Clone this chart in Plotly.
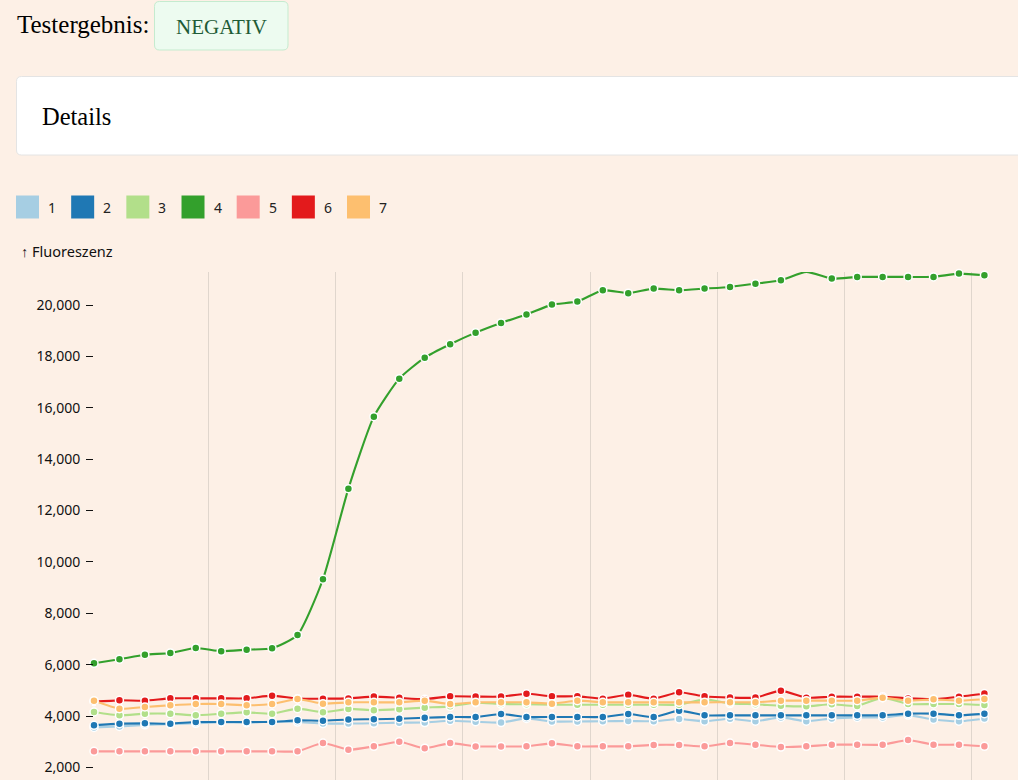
import plotly.graph_objects as go

# ---------------- data ----------------
cycles = list(range(36))
series_names = ["1", "2", "3", "4", "5", "6", "7"]
series_colors = ["#a6cee3", "#1f78b4", "#b2df8a", "#33a02c", "#fb9a99", "#e31a1c", "#fdbf6f"]

s1 = [3560, 3600, 3660, 3690, 3720, 3760, 3740, 3790, 3770,
      3710, 3710, 3720, 3745, 3750, 3820, 3780, 3750, 3910,
      3790, 3790, 3800, 3810, 3800, 3890, 3800, 3900, 3800,
      3950, 3800, 3910, 3950, 3950, 4040, 3870, 3800, 3910]
s2 = [3641, 3706, 3719, 3706, 3771, 3771, 3771, 3771, 3835,
      3822, 3870, 3880, 3900, 3935, 3965, 3965, 4082, 3965,
      3965, 3965, 3965, 4082, 3965, 4212, 4030, 4030, 4030,
      4030, 4030, 4030, 4030, 4030, 4095, 4095, 4030, 4095]
s3 = [4160, 4030, 4095, 4095, 4030, 4095, 4147, 4095, 4290,
      4150, 4280, 4230, 4270, 4330, 4380, 4520, 4470, 4460,
      4445, 4445, 4445, 4445, 4445, 4445, 4650, 4490, 4460,
      4400, 4380, 4460, 4394, 4718, 4471, 4471, 4471, 4430]
s4 = [6056, 6212, 6391, 6457, 6652, 6523, 6586, 6640, 7158,
      9326, 12853, 15655, 17134, 17952, 18473, 18925, 19303, 19626,
      20015, 20132, 20575, 20459, 20638, 20575, 20638, 20704, 20832,
      20965, 21288, 21027, 21093, 21093, 21093, 21093, 21222, 21158]
s5 = [2628, 2628, 2628, 2628, 2628, 2628, 2628, 2628, 2628,
      2953, 2693, 2823, 3005, 2750, 2950, 2820, 2820, 2823,
      2940, 2823, 2823, 2823, 2880, 2880, 2823, 2953, 2888,
      2797, 2823, 2888, 2888, 2888, 3070, 2888, 2888, 2823]
s6 = [4560, 4614, 4601, 4692, 4692, 4692, 4692, 4796, 4680,
      4680, 4690, 4760, 4710, 4660, 4770, 4760, 4760, 4870,
      4770, 4770, 4680, 4830, 4680, 4930, 4770, 4720, 4720,
      4990, 4717, 4756, 4756, 4756, 4690, 4660, 4756, 4880]
s7 = [4601, 4290, 4355, 4420, 4471, 4471, 4420, 4471, 4666,
      4484, 4536, 4536, 4536, 4601, 4471, 4536, 4536, 4536,
      4484, 4601, 4536, 4536, 4536, 4536, 4536, 4538, 4538,
      4601, 4601, 4601, 4601, 4718, 4601, 4653, 4601, 4666]
series_values = [s1, s2, s3, s4, s5, s6, s7]

y_ticks = [2000, 4000, 6000, 8000, 10000, 12000, 14000, 16000, 18000, 20000]
x_grid = [4.5, 9.5, 14.5, 19.5, 24.5, 29.5, 34.5]

# ---------------- page geometry ----------------
W, H = 1018, 780
BG = "#fdf0e6"


def px(x):
    return x / W


def py(y):
    return 1 - y / H


def rounded_rect(x0, y0, x1, y1, r):
    # pixel coords -> paper path with rounded corners
    X = lambda v: f"{px(v):.6f}"
    Y = lambda v: f"{py(v):.6f}"
    return (f"M {X(x0 + r)} {Y(y0)} L {X(x1 - r)} {Y(y0)} Q {X(x1)} {Y(y0)} {X(x1)} {Y(y0 + r)} "
            f"L {X(x1)} {Y(y1 - r)} Q {X(x1)} {Y(y1)} {X(x1 - r)} {Y(y1)} "
            f"L {X(x0 + r)} {Y(y1)} Q {X(x0)} {Y(y1)} {X(x0)} {Y(y1 - r)} "
            f"L {X(x0)} {Y(y0 + r)} Q {X(x0)} {Y(y0)} {X(x0 + r)} {Y(y0)} Z")


fig = go.Figure()

# lines first
for name, color, vals in zip(series_names, series_colors, series_values):
    fig.add_trace(go.Scatter(
        x=cycles, y=vals, mode="lines", name=name, showlegend=False,
        line=dict(color=color, width=2.1, shape="spline", smoothing=0.55),
        cliponaxis=False, hoverinfo="skip"))
# dots on top
for name, color, vals in zip(series_names, series_colors, series_values):
    fig.add_trace(go.Scatter(
        x=cycles, y=vals, mode="markers", name=name, showlegend=False,
        marker=dict(color=color, size=8, line=dict(color="white", width=1.5)),
        cliponaxis=False))

shapes = []
annotations = []

# header: Testergebnis + badge
annotations.append(dict(x=px(14.5), y=py(25), xref="paper", yref="paper", xanchor="left", yanchor="middle",
                        text="Testergebnis:", showarrow=False,
                        font=dict(family="Liberation Serif", size=25, color="#000000")))
shapes.append(dict(type="path", xref="paper", yref="paper",
                   path=rounded_rect(154.5, 1.5, 288, 50, 5),
                   fillcolor="#edfbf0", line=dict(color="#c5ebcf", width=1), layer="below"))
annotations.append(dict(x=px(221), y=py(27), xref="paper", yref="paper", xanchor="center", yanchor="middle",
                        text="NEGATIV", showarrow=False,
                        font=dict(family="Liberation Serif", size=21, color="#1f5c37")))

# Details card
shapes.append(dict(type="path", xref="paper", yref="paper",
                   path=rounded_rect(16.5, 76.5, 1040, 155, 5),
                   fillcolor="#ffffff", line=dict(color="#e4e4e4", width=1), layer="below"))
annotations.append(dict(x=px(39.5), y=py(116), xref="paper", yref="paper", xanchor="left", yanchor="middle",
                        text="Details", showarrow=False,
                        font=dict(family="Liberation Serif", size=24.5, color="#000000")))

# swatch legend
for i, (name, color) in enumerate(zip(series_names, series_colors)):
    x0 = 16 + i * 55.17
    shapes.append(dict(type="rect", xref="paper", yref="paper",
                       x0=px(x0), x1=px(x0 + 23), y0=py(195.5), y1=py(218.5),
                       fillcolor=color, line=dict(width=0)))
    annotations.append(dict(x=px(x0 + 30), y=py(207.5), xref="paper", yref="paper",
                            xanchor="left", yanchor="middle", text=name, showarrow=False,
                            font=dict(family="Noto Sans", size=14, color="#222222")))

# y axis label
annotations.append(dict(x=px(19), y=py(251), xref="paper", yref="paper", xanchor="left", yanchor="middle",
                        text="↑ Fluoreszenz", showarrow=False,
                        font=dict(family="Noto Sans", size=14.5, color="#111111")))

plot_left, plot_top = 94, 272
step = 25.44
x_max = (W - plot_left) / step
y_per_px = 1000 / 25.69
y_lo = 2000 - (H - 767.5) * y_per_px
y_hi = 20000 + (305 - plot_top) * y_per_px

fig.update_layout(
    width=W, height=H,
    margin=dict(l=0, r=0, t=0, b=0),
    paper_bgcolor=BG, plot_bgcolor=BG,
    showlegend=False,
    shapes=shapes, annotations=annotations,
    font=dict(family="Noto Sans", size=14, color="#111111"),
    xaxis=dict(domain=[px(plot_left), 1], range=[0, x_max], tickvals=x_grid,
               showticklabels=False, ticks="", showgrid=True, gridcolor="#e0d6cd", gridwidth=1,
               zeroline=False, showline=False, fixedrange=True, automargin=False),
    yaxis=dict(domain=[0, py(plot_top)], range=[y_lo, y_hi], tickvals=y_ticks, tickformat=",",
               ticks="outside", ticklen=7, tickwidth=1.4, tickcolor="#111111",
               ticklabelstandoff=3,
               showgrid=False, zeroline=False, showline=False, fixedrange=True, automargin=False,
               tickfont=dict(family="Noto Sans", size=14, color="#111111")),
)

fig.write_html("out.html")
